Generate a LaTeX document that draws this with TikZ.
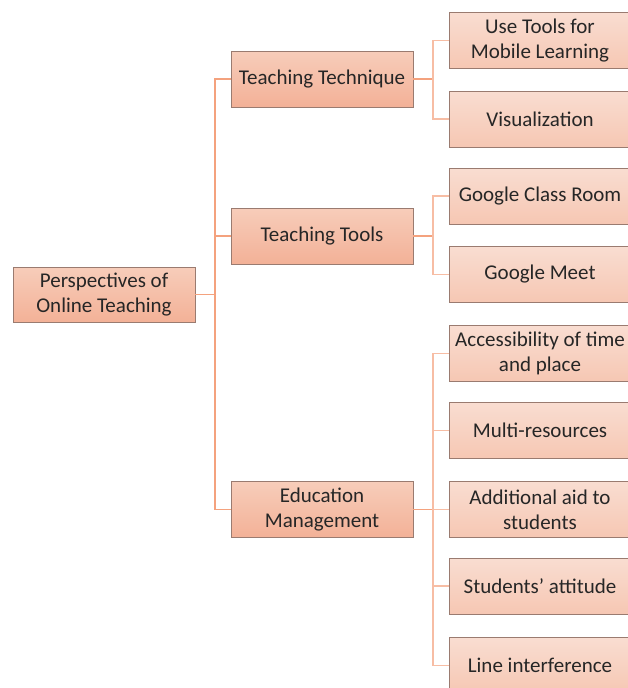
\documentclass[tikz,border=0pt]{standalone}
\usepackage{fontspec}
\setmainfont{Carlito}
\definecolor{bordc}{HTML}{9A7B70}
\definecolor{trunkc}{HTML}{F4A27E}
\definecolor{branchc}{HTML}{F7BDA4}
\definecolor{aTop}{HTML}{F7CDBA}
\definecolor{aBot}{HTML}{F3B197}
\definecolor{bTop}{HTML}{F9DDD1}
\definecolor{bBot}{HTML}{F6C7B3}
\begin{document}
\begin{tikzpicture}[x=1pt,y=-1pt,
  boxbase/.style={rectangle, draw=bordc, line width=0.9pt, align=center,
    font=\fontsize{21}{25}\selectfont, text=black!85, inner sep=0pt,
    minimum width=182pt},
  rootbox/.style={boxbase, top color=aTop, bottom color=aBot, minimum height=55pt},
  midbox/.style={boxbase, top color=aTop, bottom color=aBot, minimum height=56pt},
  leafbox/.style={boxbase, top color=bTop, bottom color=bBot, minimum height=56pt},
  trunk/.style={draw=trunkc, line width=1.4pt},
  branch/.style={draw=branchc, line width=1.2pt}]
\useasboundingbox (0,0) rectangle (628,688);
\clip (0,0) rectangle (628,688);
\fill[white] (0,0) rectangle (628,688);

\node[rootbox] (root) at (104,294.5) {Perspectives of\\Online Teaching};

\node[midbox] (tt) at (322,79) {Teaching Technique};
\node[midbox] (tl) at (322,236) {Teaching Tools};
\node[midbox] (em) at (322,509.5) {Education\\Management};

\node[leafbox] (l1) at (540,40.5) {Use Tools for\\Mobile Learning};
\node[leafbox] (l2) at (540,119) {Visualization};
\node[leafbox] (l3) at (540,196) {Google Class Room};
\node[leafbox] (l4) at (540,274.5) {Google Meet};
\node[leafbox] (l5) at (540,353.5) {Accessibility of time\\and place};
\node[leafbox] (l6) at (540,430.5) {Multi-resources};
\node[leafbox] (l7) at (540,509.5) {Additional aid to\\students};
\node[leafbox] (l8) at (540,586) {Students’ attitude};
\node[leafbox] (l9) at (540,665.5) {Line interference};

\coordinate (rj) at (215,294.5);
\draw[trunk] (root.east) -- (rj);
\foreach \n in {tt,tl,em}{
  \draw[trunk] (rj) |- (\n.west);
}
\coordinate (ttj) at (433,79);
\coordinate (tlj) at (433,236);
\coordinate (emj) at (433,509.5);
\draw[trunk] (tt.east) -- (ttj);
\draw[trunk] (tl.east) -- (tlj);
\draw[trunk] (em.east) -- (emj);
\foreach \n in {l1,l2}{ \draw[branch] (ttj) |- (\n.west); }
\foreach \n in {l3,l4}{ \draw[branch] (tlj) |- (\n.west); }
\foreach \n in {l5,l6,l7,l8,l9}{ \draw[branch] (emj) |- (\n.west); }
\end{tikzpicture}
\end{document}
